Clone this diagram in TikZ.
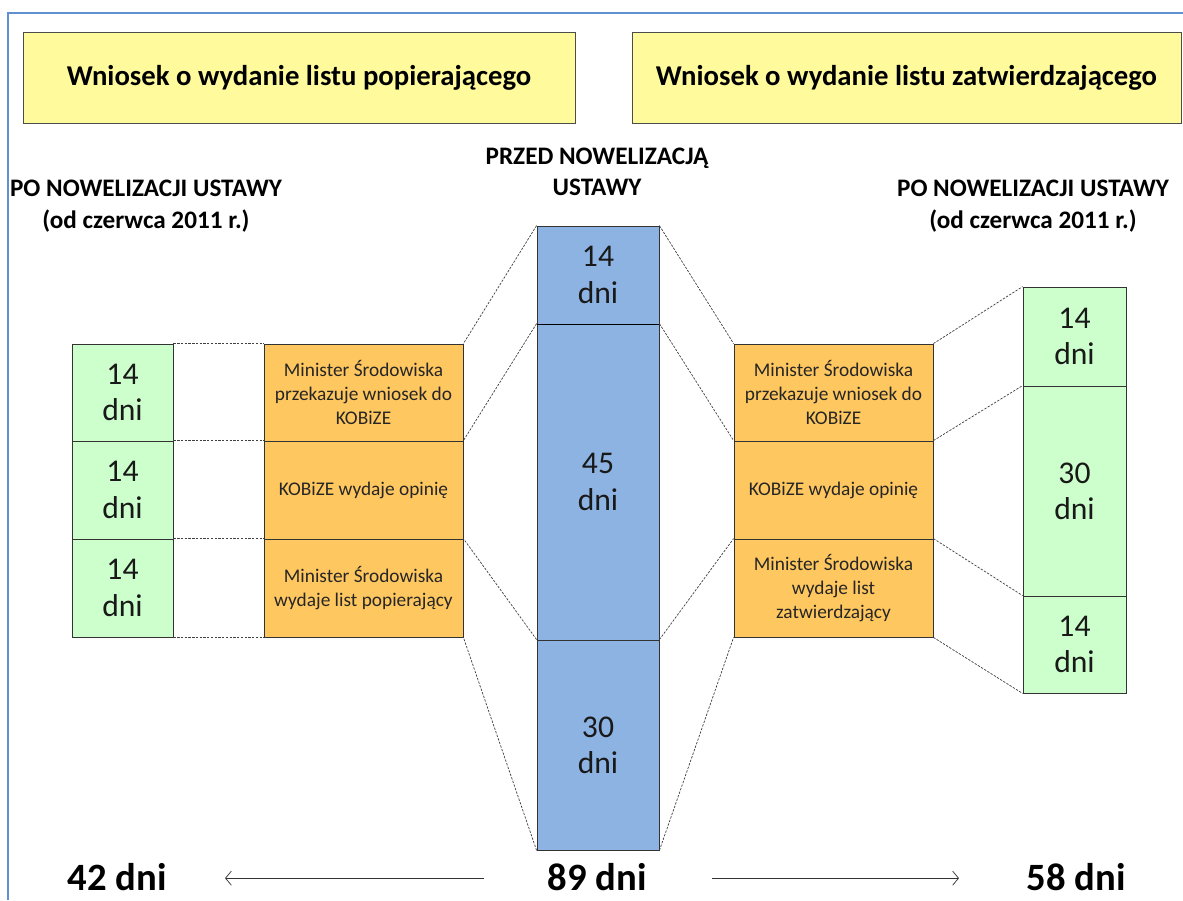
\documentclass[tikz,border=0pt]{standalone}
\usepackage{fontspec}
\setmainfont{Carlito}
\usetikzlibrary{arrows.meta}

\definecolor{frameblue}{RGB}{95,145,210}
\definecolor{boxyellow}{RGB}{255,251,157}
\definecolor{boxgreen}{RGB}{204,255,204}
\definecolor{boxorange}{RGB}{255,199,95}
\definecolor{boxblue}{RGB}{141,179,226}

\begin{document}
\begin{tikzpicture}[x=0.03cm,y=-0.03cm,
    wh/.style 2 args={minimum width=#1*0.03cm, minimum height=#2*0.03cm},
    box/.style={draw=black!80, line width=0.7pt, inner sep=0pt, align=center},
    headbox/.style={box, fill=boxyellow, draw=black!70, font=\bfseries\fontsize{24.5}{29}\selectfont},
    greenbox/.style={box, fill=boxgreen, text=black!90, font=\fontsize{27}{31}\selectfont},
    bluebox/.style={box, fill=boxblue, text=black!90, font=\fontsize{27}{31}\selectfont},
    orangebox/.style={box, fill=boxorange, text=black!85, font=\fontsize{16.5}{20.5}\selectfont},
    lbl/.style={align=center, inner sep=0pt, font=\bfseries\fontsize{21.5}{27}\selectfont},
    total/.style={inner sep=0pt, font=\bfseries\fontsize{33}{39}\selectfont},
    link/.style={black!75, line width=0.6pt, dash pattern=on 2pt off 1.2pt},
    arr/.style={black!80, line width=0.6pt, -{Straight Barb[length=5pt,width=12pt]}}]
    \useasboundingbox[fill=white] (0,0) rectangle (1183,900);
    \draw[frameblue, line width=1.2pt] (8,900) -- (8,13) -- (1183,13);

    % naglowki
    \node[headbox, wh={552}{91}] (wnL) at (299,77.5) {Wniosek o wydanie listu popierającego};
    \node[headbox, wh={549}{91}] (wnR) at (906.5,77.5) {Wniosek o wydanie listu zatwierdzającego};
    \node[lbl] (przed) at (597,172) {PRZED NOWELIZACJĄ\\USTAWY};
    \node[lbl] (poL) at (146,206) {PO NOWELIZACJI USTAWY\\(od czerwca 2011 r.)};
    \node[lbl] (poR) at (1033,206) {PO NOWELIZACJI USTAWY\\(od czerwca 2011 r.)};

    % przed nowelizacja
    \node[bluebox, wh={122}{98}] (bTop) at (598,275) {14\\dni};
    \node[bluebox, wh={122}{316}] (bMid) at (598,482) {45\\dni};
    \node[bluebox, wh={122}{210}] (bBot) at (598,745) {30\\dni};
    \draw[line width=1.5pt] (bTop.south west) -- (bTop.south east);

    % lewa strona
    \node[greenbox, wh={101}{97}] (lgA) at (122.5,392.5) {14\\dni};
    \node[greenbox, wh={101}{98}] (lgB) at (122.5,490) {14\\dni};
    \node[greenbox, wh={101}{98}] (lgC) at (122.5,588) {14\\dni};
    \node[orangebox, wh={199}{97}] (loA) at (363.5,392.5) {Minister Środowiska\\przekazuje wniosek do\\KOBiZE};
    \node[orangebox, wh={199}{98}] (loB) at (363.5,490) {KOBiZE wydaje opinię};
    \node[orangebox, wh={199}{98}] (loC) at (363.5,588) {Minister Środowiska\\wydaje list popierający};

    % prawa strona
    \node[orangebox, wh={199}{97}] (roA) at (833.5,392.5) {Minister Środowiska\\przekazuje wniosek do\\KOBiZE};
    \node[orangebox, wh={199}{98}] (roB) at (833.5,490) {KOBiZE wydaje opinię};
    \node[orangebox, wh={199}{98}] (roC) at (833.5,588) {Minister Środowiska\\wydaje list\\zatwierdzający};
    \node[greenbox, wh={103}{99}] (rgA) at (1074.5,336.5) {14\\dni};
    \node[greenbox, wh={103}{210}] (rgB) at (1074.5,491) {30\\dni};
    \node[greenbox, wh={103}{97}] (rgC) at (1074.5,644.5) {14\\dni};

    % linie przerywane
    \draw[link] (lgA.north east) -- (loA.north west);
    \draw[link] (lgB.north east) -- (loB.north west);
    \draw[link] (lgC.north east) -- (loC.north west);
    \draw[link] (lgC.south east) -- (loC.south west);
    \draw[link] (bTop.north west) -- (loA.north east);
    \draw[link] (bMid.north west) -- (loB.north east);
    \draw[link] (bBot.north west) -- (loC.north east);
    \draw[link] (bBot.south west) -- (loC.south east);
    \draw[link] (bTop.north east) -- (roA.north west);
    \draw[link] (bMid.north east) -- (roB.north west);
    \draw[link] (bBot.north east) -- (roC.north west);
    \draw[link] (bBot.south east) -- (roC.south west);
    \draw[link] (roA.north east) -- (rgA.north west);
    \draw[link] (roB.north east) -- (rgB.north west);
    \draw[link] (roC.north east) -- (rgC.north west);
    \draw[link] (roC.south east) -- (rgC.south west);

    % sumy
    \node[total] (d42) at (117,877) {42 dni};
    \node[total] (d89) at (597,877) {89 dni};
    \node[total] (d58) at (1076,877) {58 dni};
    \draw[arr, shorten <=1.9cm, shorten >=1.75cm] ([yshift=-1]d89.west) -- ([yshift=-1]d42.east);
    \draw[arr, shorten <=1.96cm, shorten >=2.02cm] ([yshift=-1]d89.east) -- ([yshift=-1]d58.west);
\end{tikzpicture}
\end{document}
